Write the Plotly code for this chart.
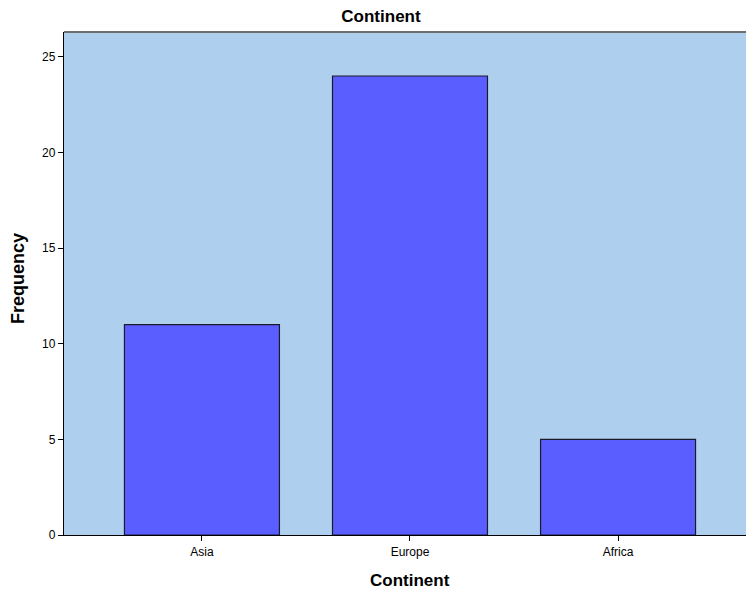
import plotly.graph_objects as go

categories = ["Asia", "Europe", "Africa"]
frequencies = [11, 24, 5]
y_ticks = [0, 5, 10, 15, 20, 25]

W, H = 746, 594

fig = go.Figure()
fig.add_trace(go.Bar(
    x=categories, y=frequencies,
    width=0.745,
    marker=dict(color="#5a5eff", line=dict(color="#1a1a2a", width=1.2)),
))

fig.update_layout(
    width=W, height=H,
    margin=dict(l=64, r=0, t=32, b=59),
    paper_bgcolor="white",
    plot_bgcolor="#aed0ee",
    font=dict(family="Liberation Sans, Arial, sans-serif", color="#000"),
    showlegend=False,
    title=dict(text="<b>Continent</b>", x=381 / W, xanchor="center",
               y=1 - 16 / H, yanchor="middle",
               font=dict(size=17, color="#000")),
    shapes=[dict(type="line", xref="paper", yref="paper", x0=0, x1=1, y0=1, y1=1,
                 line=dict(color="#6e6e6e", width=2))],
    annotations=[
        dict(text="<b>Continent</b>", xref="paper", yref="paper",
             x=(410 - 64) / (W - 64), y=-(580 - 535) / (535 - 32),
             xanchor="center", yanchor="middle", showarrow=False,
             font=dict(size=17)),
        dict(text="<b>Frequency</b>", xref="paper", yref="paper",
             x=-(64 - 18) / (W - 64), y=(535 - 279) / (535 - 32),
             xanchor="center", yanchor="middle", showarrow=False,
             textangle=-90, font=dict(size=18)),
    ],
)
fig.update_xaxes(
    range=[-0.663, 2.615],
    showgrid=False, zeroline=False,
    showline=True, linecolor="#000", linewidth=1.3,
    ticks="outside", ticklen=5, tickcolor="#000", tickwidth=1,
    tickfont=dict(size=12),
)
fig.update_yaxes(
    range=[0, 26.3],
    tickvals=y_ticks,
    showgrid=False, zeroline=False,
    showline=True, linecolor="#000", linewidth=1.3,
    ticks="outside", ticklen=5, tickcolor="#000", tickwidth=1,
    tickfont=dict(size=12),
)

fig.write_html(
    "out.html",
    config={"displayModeBar": False},
    post_script="document.body.style.margin='0';document.body.style.overflow='hidden';",
)
